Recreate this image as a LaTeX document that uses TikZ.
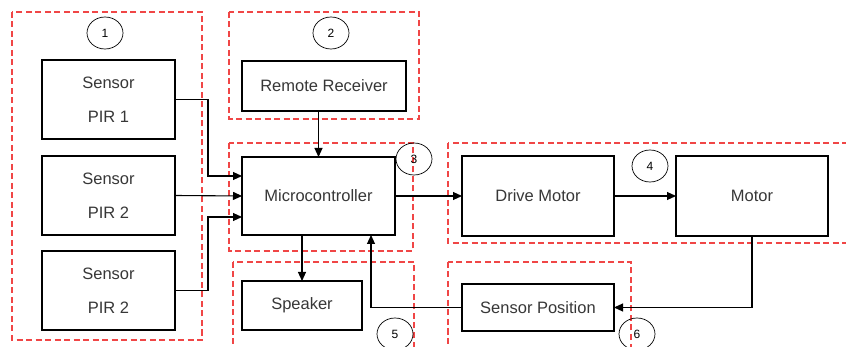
\documentclass[tikz,border=0pt]{standalone}
\usepackage{fontspec}
\setmainfont{Liberation Sans}
\usepackage{tikz}
\usetikzlibrary{positioning,arrows.meta,shapes.geometric,calc}
\definecolor{frame}{RGB}{240,70,70}
\definecolor{txt}{RGB}{55,55,55}

\begin{document}
\begin{tikzpicture}[x=1pt, y=-1pt, >={Triangle[length=9pt,width=8pt]},
    block/.style={draw, line width=1.1pt, inner sep=0pt, outer sep=0pt, text=txt,
        font=\fontsize{16.5}{34}\selectfont, align=center},
    group/.style={draw=frame, line width=1.2pt, dash pattern=on 6pt off 3.5pt},
    num/.style={draw, ellipse, line width=0.7pt, minimum width=36pt, minimum height=32pt,
        inner sep=0pt, font=\fontsize{12}{14}\selectfont},
    link/.style={->, line width=1.1pt}]
    \clip (0,0) rectangle (846,347);

    % Groupes
    \draw[group] (12,12) rectangle (202,340);
    \draw[group] (229,12) rectangle (419,119);
    \draw[group] (229,143) rectangle (413,251);
    \draw[group] (448,143) rectangle (852,243);
    \draw[group] (233,262) rectangle (414,352);
    \draw[group] (448,262) rectangle (631,352);

    % Blocs
    \node[block, minimum width=133pt, minimum height=79pt] (pir1) at (108.5,99.5) {Sensor\\PIR 1};
    \node[block, minimum width=133pt, minimum height=79pt] (pir2) at (108.5,195.5) {Sensor\\PIR 2};
    \node[block, minimum width=133pt, minimum height=79pt] (pir3) at (108.5,290.5) {Sensor\\PIR 2};
    \node[block, minimum width=164pt, minimum height=50pt] (remote) at (324,86) {Remote Receiver};
    \node[block, minimum width=153pt, minimum height=78pt] (micro) at (318.5,196) {Microcontroller};
    \node[block, minimum width=120pt, minimum height=49pt] (speaker) at (302,305.5) {Speaker};
    \node[block, minimum width=152pt, minimum height=80pt] (drive) at (538,196) {Drive Motor};
    \node[block, minimum width=152pt, minimum height=80pt] (motor) at (752,196) {Motor};
    \node[block, minimum width=152pt, minimum height=47pt] (sensorpos) at (538,307.5) {Sensor Position};

    % Numeros
    \node[num] (n1) at (105,33) {1};
    \node[num] (n2) at (331,33) {2};
    \node[num] (n3) at (414,159) {3};
    \node[num] (n4) at (650,166) {4};
    \node[num] (n5) at (395,334) {5};
    \node[num] (n6) at (637,334) {6};

    % Liaisons
    \draw[link] (pir1.east) -- ++(33,0) |- ([yshift=20pt]micro.west);
    \draw[link] (pir2.east) -- (micro.west);
    \draw[link] (pir3.east) -- ++(33,0) |- ([yshift=-21pt]micro.west);
    \draw[link] (micro.north |- remote.south) -- (micro.north);
    \draw[link] (speaker.north |- micro.south) -- (speaker.north);
    \draw[link] (micro.east) -- (drive.west);
    \draw[link] (drive.east) -- (motor.west);
    \draw[link] (motor.south) |- (sensorpos.east);
    \draw[link] (sensorpos.west) -| ([xshift=52.5pt]micro.south);
\end{tikzpicture}
\end{document}
